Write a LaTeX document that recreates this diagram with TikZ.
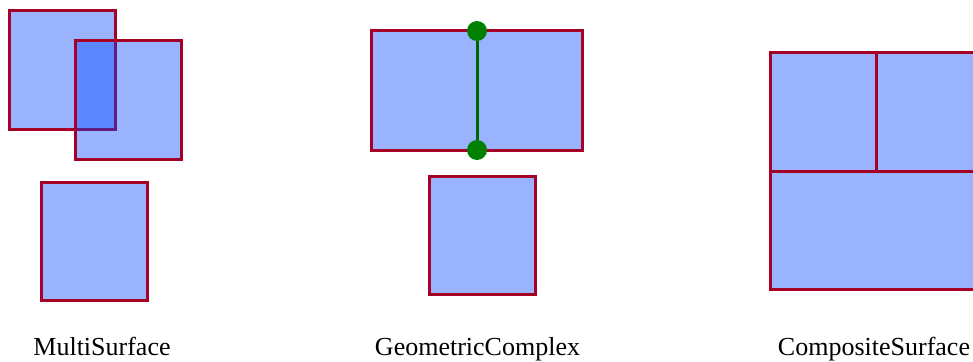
\documentclass[tikz,border=0pt]{standalone}
\usepackage{fontspec}
\setmainfont{Liberation Serif}
\usetikzlibrary{positioning}
\definecolor{surfblue}{RGB}{0,65,255}
\definecolor{edgered}{RGB}{165,0,38}
\definecolor{ptgreen}{RGB}{0,128,0}

\begin{document}
\begin{tikzpicture}[x=1pt,y=-1pt,
  surf/.style={draw=edgered,line width=3pt,fill=surfblue,fill opacity=0.4,line join=miter},
  curve/.style={draw=ptgreen!80!black,line width=3pt},
  pt/.style={circle,fill=ptgreen,inner sep=0pt,minimum size=20pt},
  lbl/.style={font=\fontsize{26}{30}\selectfont,anchor=base,inner sep=0pt}]
  \useasboundingbox (0,0) rectangle (973,361);
  \clip (0,0) rectangle (973,361);

  % MultiSurface: three loose patches
  \draw[surf] (9,11) rectangle (115,129);
  \draw[surf] (75,41) rectangle (181,159);
  \draw[surf] (41,182) rectangle (147,300);
  \node[lbl] (ms) at (102,355) {MultiSurface};

  % GeometricComplex: surface, curve with end points, patch
  \draw[surf] (371,31) rectangle (582,150);
  \draw[surf] (429,176) rectangle (535,294);
  \node[pt] (gtop) at (477,31) {};
  \node[pt] (gbot) at (477,150) {};
  \draw[curve] (gtop) -- (gbot);
  \node[lbl] (gc) at (477.5,355) {GeometricComplex};

  % CompositeSurface: patches sharing edges
  \draw[surf] (770,53) rectangle (876,171);
  \draw[surf] (876,53) rectangle (978,171);
  \draw[surf] (770,171) rectangle (978,289);
  \node[lbl] (cs) at (874,355) {CompositeSurface};
\end{tikzpicture}
\end{document}
